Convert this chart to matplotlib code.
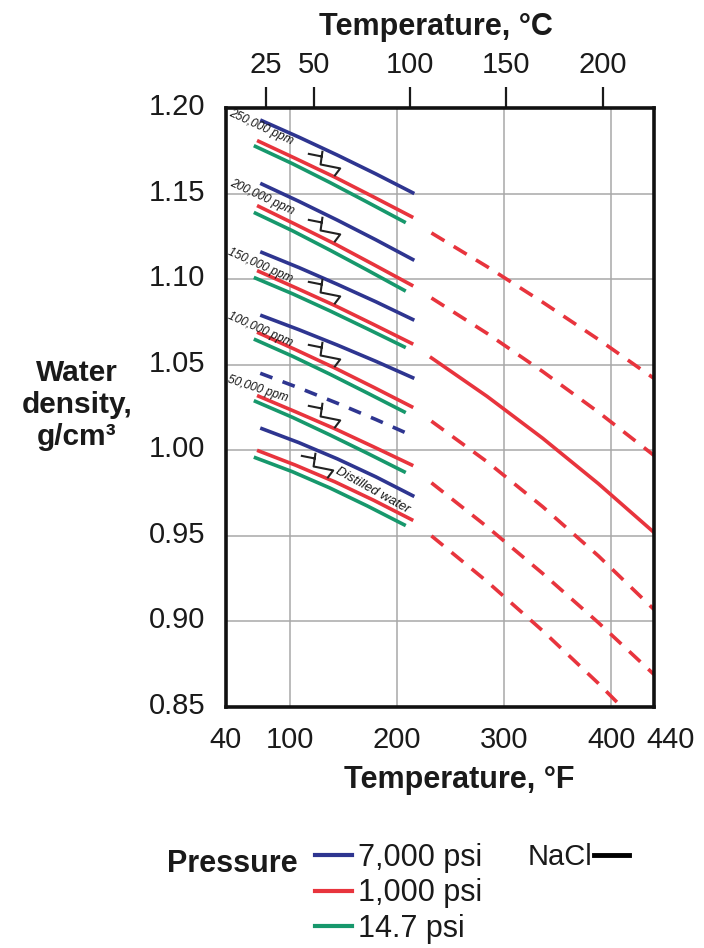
import numpy as np
import matplotlib
matplotlib.use("Agg")
import matplotlib.pyplot as plt
import matplotlib.transforms as mtransforms
from matplotlib.path import Path
from matplotlib.lines import Line2D

plt.rcParams['font.family'] = ['Liberation Sans', 'DejaVu Sans']

# ---------------- data ----------------
salinity_labels = ['250,000 ppm', '200,000 ppm', '150,000 ppm', '100,000 ppm', '50,000 ppm', 'Distilled water']

# temperatures (°F) of the measured curves
temp_7000 = [72, 108, 144, 180, 216]
temp_1000 = [69, 105, 142, 178, 215]
temp_14_7 = [66, 102, 137, 172, 208]

# densities (g/cm3), one row per salinity
dens_7000 = [[1.193, 1.1830, 1.1725, 1.1615, 1.150],
             [1.156, 1.1455, 1.1345, 1.1230, 1.111],
             [1.116, 1.1068, 1.0970, 1.0868, 1.076],
             [1.079, 1.0705, 1.0615, 1.0520, 1.042],
             [1.045, 1.0365, 1.0275, 1.0180, 1.008],
             [1.013, 1.0045, 0.9950, 0.9845, 0.973]]
dens_1000 = [[1.181, 1.1705, 1.1595, 1.1480, 1.136],
             [1.143, 1.1320, 1.1205, 1.1085, 1.096],
             [1.105, 1.0950, 1.0845, 1.0735, 1.062],
             [1.069, 1.0588, 1.0480, 1.0368, 1.025],
             [1.032, 1.0225, 1.0125, 1.0020, 0.991],
             [1.000, 0.9913, 0.9815, 0.9708, 0.959]]
dens_14_7 = [[1.178, 1.1675, 1.1565, 1.1450, 1.133],
             [1.139, 1.1283, 1.1170, 1.1053, 1.093],
             [1.101, 1.0915, 1.0815, 1.0710, 1.060],
             [1.065, 1.0550, 1.0445, 1.0335, 1.022],
             [1.029, 1.0193, 1.0090, 0.9983, 0.987],
             [0.996, 0.9875, 0.9780, 0.9675, 0.956]]

# high-temperature 1,000 psi extrapolations
temp_ext = [232, 284, 336, 388, 440]
dens_ext = [[1.127, 1.1073, 1.0865, 1.0648, 1.042],
            [1.089, 1.0683, 1.0460, 1.0223, 0.997],
            [1.054, 1.0315, 1.0070, 0.9805, 0.952],
            [1.017, 0.9933, 0.9670, 0.9383, 0.907],
            [0.981, 0.9553, 0.9280, 0.8993, 0.869],
            [0.950, 0.9233, 0.8945, 0.8638, 0.831]]
ext_solid = [False, False, True, False, False, False]
blue_dashed = [False, False, False, False, True, False]

x_ticks_F = [40, 100, 200, 300, 400, 440]
y_ticks = [0.85, 0.90, 0.95, 1.00, 1.05, 1.10, 1.15, 1.20]
top_ticks_C = [25, 50, 100, 150, 200]

pressure_labels = ['7,000 psi', '1,000 psi', '14.7 psi']
c_blue, c_red, c_green = '#2e3590', '#e8343d', '#17986c'

# ---------------- figure ----------------
W, H = 704, 948
fig = plt.figure(figsize=(W / 100, H / 100), dpi=100)
fig.patch.set_facecolor('white')
ax = fig.add_axes([226 / W, 1 - 707 / H, 428 / W, 599 / H])
ax.set_xlim(40, 440)
ax.set_ylim(0.85, 1.20)

ax.set_xticks(x_ticks_F)
ax.set_xticklabels([str(v) for v in x_ticks_F])
ax.set_yticks(y_ticks)
ax.set_yticklabels([f'{v:.2f}' for v in y_ticks])
ax.tick_params(axis='both', length=0, labelsize=21, colors='#1a1a1a')
ax.tick_params(axis='x', pad=14)
ax.tick_params(axis='y', pad=15)
ax.grid(True, color='#a8a8a8', linewidth=1.1)
ax.set_axisbelow(True)
for s in ax.spines.values():
    s.set_linewidth(2.6)
    s.set_color('#111111')
    s.set_zorder(5)

lw = 2.6
for i in range(len(salinity_labels)):
    ax.plot(temp_14_7, dens_14_7[i], color=c_green, lw=lw, solid_capstyle='butt')
    ax.plot(temp_1000, dens_1000[i], color=c_red, lw=lw, solid_capstyle='butt')
    if blue_dashed[i]:
        ax.plot(temp_7000, dens_7000[i], color=c_blue, lw=lw, dashes=(3.6, 3.0))
    else:
        ax.plot(temp_7000, dens_7000[i], color=c_blue, lw=lw, solid_capstyle='butt')
    if ext_solid[i]:
        ax.plot(temp_ext, dens_ext[i], color=c_red, lw=lw)
    else:
        ax.plot(temp_ext, dens_ext[i], color=c_red, lw=lw, dashes=(4.2, 3.0))

# pressure-scale break symbols, anchored above the 1,000 psi curve
verts = [(-17, 10), (-2, 7), (-2, 13), (-4, -1), (16, -5), (10, -13)]
codes = [Path.MOVETO, Path.LINETO, Path.MOVETO, Path.LINETO, Path.LINETO, Path.LINETO]
brk = Path(verts, codes)
for i in range(len(salinity_labels)):
    xb = 125 if i == len(salinity_labels) - 1 else 132
    yb = np.interp(xb, temp_1000, dens_1000[i]) + 0.0055
    ax.plot([xb], [yb], marker=brk, markersize=24, markerfacecolor='none',
            markeredgecolor='#222222', markeredgewidth=1.5, linestyle='none', zorder=4)

# salinity labels
lab_pos = [(72.7, 1.1889, -25), (73.6, 1.1479, -25), (71.8, 1.1081, -24),
           (71.8, 1.0706, -24), (69.9, 1.0361, -18), (177.4, 0.9764, -29)]
for i, (x, y, r) in enumerate(lab_pos):
    fs = 9.5 if i == len(salinity_labels) - 1 else 8.6
    ax.text(x, y, salinity_labels[i], rotation=r, rotation_mode='anchor',
            ha='center', va='center', fontsize=fs, style='italic', color='#151515', zorder=6)

# top Celsius axis
secax = ax.secondary_xaxis('top', functions=(lambda f: (f - 32) / 1.8, lambda c: c * 1.8 + 32))
secax.set_xticks(top_ticks_C)
secax.set_xticklabels([str(v) for v in top_ticks_C])
secax.tick_params(length=15, width=1.6, direction='out', pad=6, labelsize=21, colors='#1a1a1a')
secax.spines['top'].set_visible(False)

# tick label adjustments
xl = ax.get_xticklabels()
xl[-1].set_transform(xl[-1].get_transform() + mtransforms.ScaledTranslation(0.17, 0, fig.dpi_scale_trans))
for t in ax.get_yticklabels():
    t.set_transform(t.get_transform() + mtransforms.ScaledTranslation(0, 0.04, fig.dpi_scale_trans))

# axis titles
fig.text(436 / W, 1 - 35 / H, 'Temperature, °C', ha='center', va='baseline', fontsize=22, fontweight='bold', color='#1a1a1a')
fig.text(459 / W, 1 - 788 / H, 'Temperature, °F', ha='center', va='baseline', fontsize=22, fontweight='bold', color='#1a1a1a')
fig.text(77 / W, 1 - 405 / H, 'Water\ndensity,\ng/cm³', ha='center', va='center', multialignment='center',
         fontsize=21.5, fontweight='bold', linespacing=1.17, color='#1a1a1a')

# legends
handles = [Line2D([], [], color=c, lw=3) for c in (c_blue, c_red, c_green)]
fig.legend(handles, pressure_labels, loc='upper left', bbox_to_anchor=(315 / W, 1 - 843 / H),
           frameon=False, fontsize=22, handlelength=1.2, handletextpad=0.2, labelspacing=0.18,
           borderpad=0, borderaxespad=0, labelcolor='#1a1a1a')
fig.text(167 / W, 1 - 872 / H, 'Pressure', ha='left', va='baseline', fontsize=22, fontweight='bold', color='#1a1a1a')
fig.legend([Line2D([], [], color='black', lw=3.5)], ['NaCl'], loc='upper left', bbox_to_anchor=(528 / W, 1 - 843 / H),
           frameon=False, fontsize=21, handlelength=1.2, handletextpad=0.05, markerfirst=False,
           borderpad=0, borderaxespad=0, labelcolor='#1a1a1a')

fig.savefig('out.png', dpi=100, facecolor='white')
